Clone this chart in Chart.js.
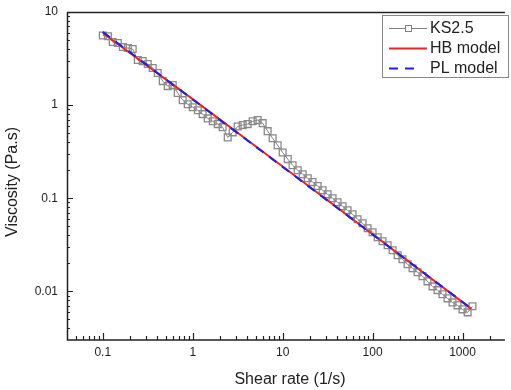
<!DOCTYPE html>
<html>
<head>
<meta charset="utf-8">
<script src="https://cdn.jsdelivr.net/npm/chart.js@4"></script>
<style>
  html, body { margin: 0; padding: 0; background: #fff; overflow: hidden; }
  canvas { display: block; }
</style>
</head>
<body>
<canvas id="visc-chart" width="511" height="390"></canvas>
<script>
// dados (escala log-log)
var shearRate = [0.1, 0.114, 0.129, 0.147, 0.167, 0.19, 0.215, 0.245, 0.278, 0.316, 0.359, 0.408, 0.464, 0.527, 0.599, 0.681, 0.774, 0.88,
    1, 1.14, 1.29, 1.47, 1.67, 1.9, 2.15, 2.45, 2.78, 3.16, 3.59, 4.08, 4.64, 5.27, 5.99, 6.81, 7.74, 8.8,
    10, 11.4, 12.9, 14.7, 16.7, 19, 21.5, 24.5, 27.8, 31.6, 35.9, 40.8, 46.4, 52.7, 59.9, 68.1, 77.4, 88,
    100, 114, 129, 147, 167, 190, 215, 245, 278, 316, 359, 408, 464, 527, 599, 681, 774, 880,
    1000, 1140, 1290];
var viscosity = [5.6, 5.5, 4.76, 4.64, 4.2, 4.1, 4.0, 3.05, 2.97, 2.76, 2.5, 2.21, 1.81, 1.6, 1.64, 1.35, 1.13, 1.02,
    0.95, 0.88, 0.8, 0.72, 0.67, 0.625, 0.58, 0.45, 0.51, 0.59, 0.61, 0.625, 0.67, 0.69, 0.64, 0.525, 0.44, 0.37,
    0.31, 0.263, 0.226, 0.2, 0.181, 0.164, 0.149, 0.135, 0.122, 0.11, 0.1, 0.0906, 0.082, 0.0743, 0.0673, 0.0594, 0.0538, 0.0475,
    0.0431, 0.0381, 0.0345, 0.0313, 0.0276, 0.0244, 0.0221, 0.0195, 0.0177, 0.016, 0.0145, 0.0128, 0.0113, 0.0103, 0.0093, 0.0084, 0.0076, 0.00707,
    0.0064, 0.00594, 0.0069];

// modelos ajustados
var modelRate = [0.1, 1, 10, 100, 1000, 1250];
var hbModel = [5.95, 1.16, 0.219, 0.041, 0.00765, 0.00648];
var plModel = [6.11, 1.15, 0.217, 0.0408, 0.00769, 0.00654];

var xTicks = [0.1, 1, 10, 100, 1000];
var xTickLabels = ["0.1", "1", "10", "100", "1000"];
var yTicks = [0.01, 0.1, 1, 10];
var yTickLabels = ["0.01", "0.1", "1", "10"];

function toPoints(xs, ys) {
    return xs.map(function (x, i) { return { x: x, y: ys[i] }; });
}

var FONT = "'Liberation Sans', Arial, sans-serif";

// eixos com ticks para dentro, titulos e legenda com caixa
var framePlugin = {
    id: "frame",
    afterDraw: function (chart) {
        var ctx = chart.ctx;
        var a = chart.chartArea;
        var xs = chart.scales.x;
        var ys = chart.scales.y;
        ctx.save();

        // moldura
        ctx.strokeStyle = "#222";
        ctx.lineWidth = 1.5;
        ctx.beginPath();
        ctx.moveTo(a.left, a.top + 0.5);
        ctx.lineTo(a.right, a.top + 0.5);
        ctx.moveTo(a.left + 0.5, a.top);
        ctx.lineTo(a.left + 0.5, a.bottom);
        ctx.lineTo(a.right, a.bottom);
        ctx.stroke();

        // ticks do eixo x
        ctx.lineWidth = 1.2;
        ctx.beginPath();
        for (var e = -2; e <= 3; e++) {
            for (var m = 1; m <= 9; m++) {
                var v = m * Math.pow(10, e);
                if (v <= xs.min || v >= xs.max) continue;
                var px = Math.round(xs.getPixelForValue(v)) + 0.5;
                var len = m === 1 ? 7 : 4;
                ctx.moveTo(px, a.bottom);
                ctx.lineTo(px, a.bottom - len);
            }
        }
        // ticks do eixo y
        for (var e2 = -3; e2 <= 1; e2++) {
            for (var m2 = 1; m2 <= 9; m2++) {
                var v2 = m2 * Math.pow(10, e2);
                if (v2 <= ys.min || v2 > ys.max) continue;
                var py = Math.round(ys.getPixelForValue(v2)) + 0.5;
                var len2 = m2 === 1 ? 6 : 3;
                ctx.moveTo(a.left, py);
                ctx.lineTo(a.left + len2, py);
            }
        }
        ctx.stroke();

        // rotulos
        ctx.fillStyle = "#222";
        ctx.font = "12px " + FONT;
        ctx.textAlign = "center";
        ctx.textBaseline = "middle";
        xTicks.forEach(function (v, i) {
            ctx.fillText(xTickLabels[i], xs.getPixelForValue(v), a.bottom + 13);
        });
        ctx.textAlign = "right";
        yTicks.forEach(function (v, i) {
            ctx.fillText(yTickLabels[i], a.left - 9, ys.getPixelForValue(v));
        });

        // titulos
        ctx.font = "16px " + FONT;
        ctx.textAlign = "center";
        ctx.fillText("Shear rate (1/s)", 290, 380);
        ctx.save();
        ctx.translate(13, 182);
        ctx.rotate(-Math.PI / 2);
        ctx.fillText("Viscosity (Pa.s)", 0, 0);
        ctx.restore();

        // legenda
        ctx.fillStyle = "#fff";
        ctx.fillRect(382, 15, 126, 62);
        ctx.strokeStyle = "#888";
        ctx.lineWidth = 1;
        ctx.strokeRect(382.5, 15.5, 126, 62);

        var ds = chart.data.datasets;
        var rows = [28, 48, 68];
        ctx.font = "16px " + FONT;
        ctx.textAlign = "left";
        ds.forEach(function (d, i) {
            var y = rows[i];
            ctx.strokeStyle = d.borderColor;
            ctx.lineWidth = d.borderWidth;
            ctx.setLineDash(d.borderDash || []);
            ctx.beginPath();
            ctx.moveTo(389, y + 0.5);
            ctx.lineTo(d.borderDash ? 417 : 427, y + 0.5);
            ctx.stroke();
            ctx.setLineDash([]);
            if (d.pointRadius > 0) {
                ctx.fillStyle = "#fff";
                ctx.fillRect(405.5, y - 2.5, 6, 6);
                ctx.strokeRect(405.5, y - 2.5, 6, 6);
            }
            ctx.fillStyle = "#222";
            ctx.fillText(d.label, 430, y + 1);
        });

        ctx.restore();
    }
};

document.addEventListener("DOMContentLoaded", function () {
    var ctx = document.getElementById("visc-chart").getContext("2d");

    var viscChart = new Chart(ctx, {
        type: "line",
        data: {
            datasets: [{
                label: "KS2.5",
                data: toPoints(shearRate, viscosity),
                borderColor: "#808080",
                borderWidth: 1,
                backgroundColor: "rgba(0,0,0,0)",
                pointStyle: "rect",
                pointRadius: 4.8,
                pointBorderWidth: 1.3,
                pointBorderColor: "#8a8a8a",
                pointBackgroundColor: "rgba(0,0,0,0)",
                tension: 0,
                order: 3
            }, {
                label: "HB model",
                data: toPoints(modelRate, hbModel),
                borderColor: "#e3262b",
                borderWidth: 2,
                pointRadius: 0,
                tension: 0,
                order: 2
            }, {
                label: "PL model",
                data: toPoints(modelRate, plModel),
                borderColor: "#2121d8",
                borderWidth: 2,
                borderDash: [9, 7],
                pointRadius: 0,
                tension: 0,
                order: 1
            }]
        },
        options: {
            responsive: false,
            animation: false,
            devicePixelRatio: 1,
            layout: { padding: { left: 67, top: 12, right: 0, bottom: 50 } },
            plugins: {
                legend: { display: false },
                tooltip: { enabled: false }
            },
            scales: {
                x: { type: "logarithmic", min: 0.04, max: 2960, display: false },
                y: { type: "logarithmic", min: 0.003, max: 10, display: false }
            }
        },
        plugins: [framePlugin]
    });
});
</script>
</body>
</html>
